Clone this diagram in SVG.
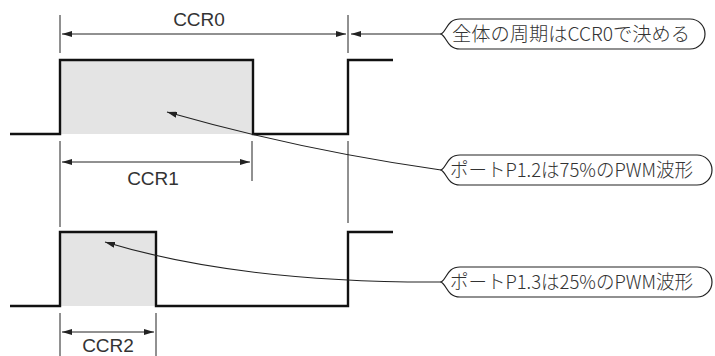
<svg xmlns="http://www.w3.org/2000/svg" width="715" height="356" viewBox="0 0 715 356">
<style>
.wave{fill:none;stroke:#111;stroke-width:2.4;stroke-linejoin:miter}
.fillr{fill:#e4e4e4;stroke:none}
.dim{fill:none;stroke:#222;stroke-width:1}
.lead{fill:none;stroke:#222;stroke-width:1.1}
.box{fill:#fff;stroke:#222;stroke-width:1.2}
.lbl{font-family:"Liberation Sans",Arial,sans-serif;font-size:19px;fill:#333;text-anchor:middle}
.jp{font-family:"Noto Sans CJK JP","Noto Sans",sans-serif;font-size:19px;font-weight:300;fill:#333}
</style>
<defs>
<marker id="ah" viewBox="0 0 10 6" refX="10" refY="3" markerWidth="10" markerHeight="6" markerUnits="userSpaceOnUse" orient="auto-start-reverse">
<path d="M0,0 L10,3 L0,6 Z" fill="#222"/>
</marker>
</defs>
<g id="waveform1">
<rect class="fillr" x="60" y="60" width="193" height="74"/>
<path class="wave" d="M10,134 H60 V60 H253 V134 H348 V60 H393"/>
</g>
<g id="waveform2">
<rect class="fillr" x="60" y="232" width="96" height="74"/>
<path class="wave" d="M10,306 H60 V232 H156 V306 H348 V232 H393"/>
</g>
<g id="ticks">
<path class="dim" d="M60,15 V53 M348,15 V53 M60,141 V227 M252,141 V181 M348,141 V223 M60,313 V356 M156,313 V356"/>
</g>
<g id="connectors">
<path class="dim" d="M62,34 H346" marker-start="url(#ah)" marker-end="url(#ah)"/>
<path class="dim" d="M62,162 H250" marker-start="url(#ah)" marker-end="url(#ah)"/>
<path class="dim" d="M62,332 H154" marker-start="url(#ah)" marker-end="url(#ah)"/>
<path class="lead" d="M441,34 H351" marker-end="url(#ah)"/>
<path class="lead" d="M441,170 Q300,150 167,112" marker-end="url(#ah)"/>
<path class="lead" d="M441,282 Q240,283 105,242" marker-end="url(#ah)"/>
</g>
<g id="label-ccr0"><text class="lbl" x="199" y="26">CCR0</text></g>
<g id="label-ccr1"><text class="lbl" x="153" y="185">CCR1</text></g>
<g id="label-ccr2"><text class="lbl" x="108" y="352">CCR2</text></g>
<g id="callout-period">
<path class="box" d="M441,34 C447,31 447,19 460,19 H690 A15,15 0 0 1 690,49 H460 C447,49 447,37 441,34 Z"/>
<text class="jp" x="452" y="41" textLength="238" lengthAdjust="spacingAndGlyphs">全体の周期はCCR0で決める</text>
</g>
<g id="callout-p12">
<path class="box" d="M441,170 C447,167 447,155 460,155 H697 A15,15 0 0 1 697,185 H460 C447,185 447,173 441,170 Z"/>
<text class="jp" x="450" y="177" textLength="243" lengthAdjust="spacingAndGlyphs">ポートP1.2は75%のPWM波形</text>
</g>
<g id="callout-p13">
<path class="box" d="M441,282 C447,279 447,267 460,267 H697 A15,15 0 0 1 697,297 H460 C447,297 447,285 441,282 Z"/>
<text class="jp" x="450" y="289" textLength="243" lengthAdjust="spacingAndGlyphs">ポートP1.3は25%のPWM波形</text>
</g>
</svg>
